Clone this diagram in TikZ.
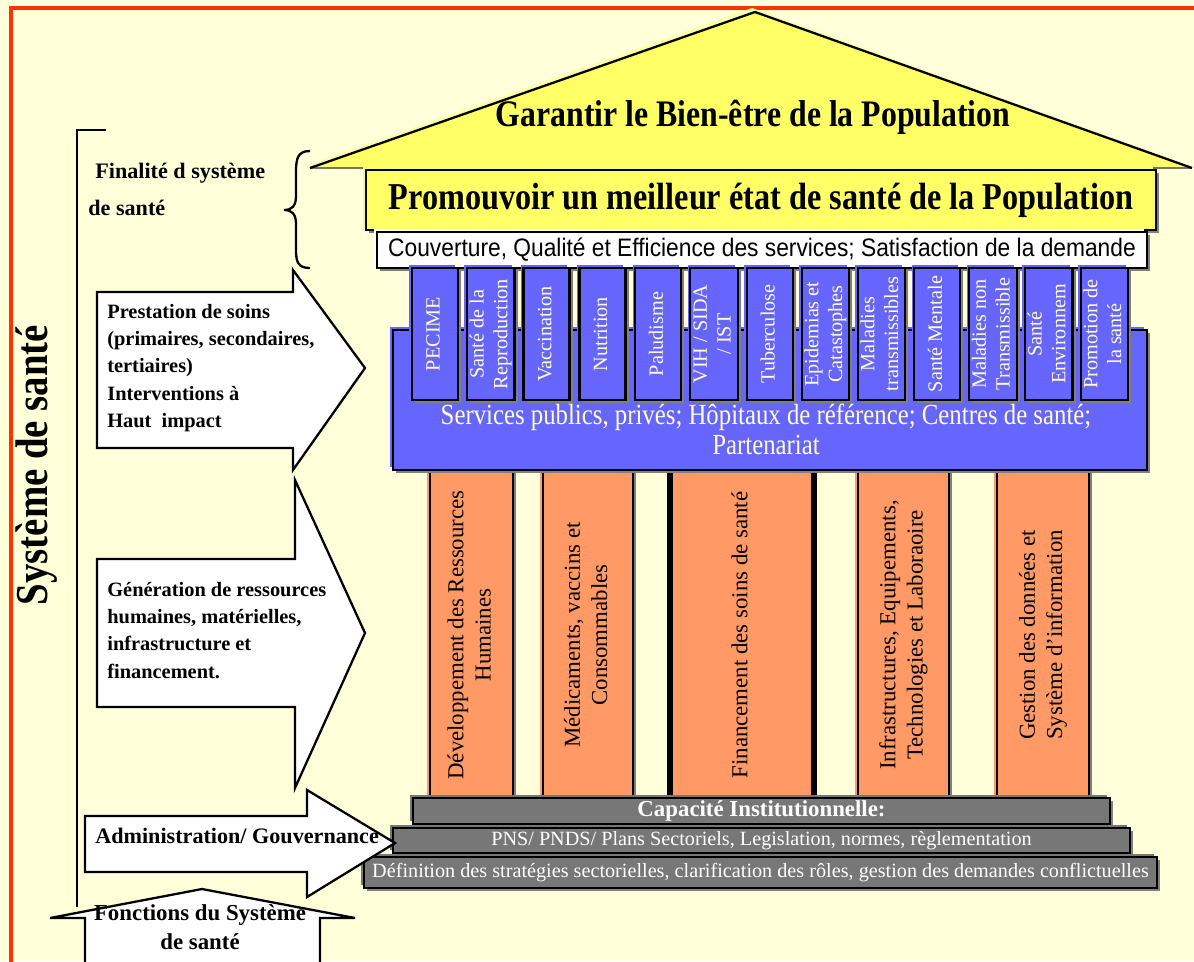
\documentclass[tikz,border=0pt]{standalone}
\usepackage{fontspec}
\setmainfont{Liberation Serif}
\newfontfamily\narrowserif[FakeStretch=0.85]{Liberation Serif}
\newfontfamily\narrowsans[FakeStretch=0.9]{Liberation Sans}
\usetikzlibrary{shadows}
\definecolor{paper}{RGB}{255,255,217}
\definecolor{frame}{RGB}{255,51,0}
\definecolor{roofyellow}{RGB}{255,255,102}
\definecolor{paleyellow}{RGB}{255,255,170}
\definecolor{serviceblue}{RGB}{102,102,255}
\definecolor{pillar}{RGB}{255,153,102}
\definecolor{stepgray}{RGB}{119,119,119}
\definecolor{cream}{RGB}{255,255,204}
\newcommand{\vtext}[1]{\rotatebox{90}{\begin{tabular}{@{}c@{}}#1\end{tabular}}}

\begin{document}
\begin{tikzpicture}[x=0.02cm, y=-0.02cm,
        shadowed/.style={drop shadow={shadow xshift=1.8pt, shadow yshift=-1.8pt, fill=black!50, opacity=1}},
        pptbox/.style={shadowed, preaction={fill=#1, transform canvas={shift={(-1.5pt,1.5pt)}}}, fill=#1, draw=black, line width=1.3pt, inner sep=0pt},
        arrowshape/.style={draw=black, fill=white, line width=1.3pt},
        lefttext/.style={font=\fontsize{11.6}{15.5}\selectfont\bfseries, align=left, inner sep=0pt},
        progtext/.style={text=cream, font=\fontsize{11.5}{13.5}\selectfont},
        pillartext/.style={font=\fontsize{13}{15.5}\selectfont},
        steptext/.style={text=white, font=\fontsize{11.5}{13}\selectfont}]
        \path[use as bounding box, clip] (0,0) rectangle (1194,961);
        \fill[paper] (0,0) rectangle (1194,961);
        \draw[frame, line width=2.8pt] (11,8) rectangle (1220,990);

        \draw[line width=1.3pt] (106,130) -- (77,130) -- (77,907);
        \node[rotate=90, inner sep=0pt, font=\fontsize{26}{28}\selectfont\narrowserif\bfseries] (systeme) at (37,465) {Système de santé};
        \node[lefttext, anchor=north west, font=\fontsize{12.6}{21}\selectfont\bfseries] (finalite) at (88,163) {\hspace{4pt}Finalité d système\\de santé};
        \draw[line width=1.3pt] (310,151) .. controls (298,151) and (296,158) .. (296,172) -- (296,196) .. controls (296,206) and (292,210) .. (284,210) .. controls (292,210) and (296,214) .. (296,224) -- (296,250) .. controls (296,262) and (298,268) .. (310,268);

        \fill[paleyellow] (305,166) -- (752,8) -- (1188,165) -- cycle;
        \fill[roofyellow] (310,168) -- (755,12) -- (1192,168) -- cycle;
        \draw[black!55, line width=1.3pt] (310,168) -- (1192,168);
        \draw[line width=1.3pt] (310,168) -- (755,12) -- (1192,168);
        \node[inner sep=0pt, font=\fontsize{21.3}{24}\selectfont\narrowserif\bfseries] (bienetre) at (753,117) {Garantir le Bien-être de la Population};

        \node[pptbox=roofyellow, minimum width=790*0.02cm, minimum height=60*0.02cm, font=\fontsize{21.6}{24}\selectfont\narrowserif\bfseries] (etat) at (761,200) {Promouvoir un meilleur état de santé de la Population};
        \node[pptbox=white, minimum width=770*0.02cm, minimum height=36*0.02cm, font=\fontsize{14.4}{16}\selectfont\narrowsans] (couverture) at (762,250) {Couverture, Qualité et Efficience des services; Satisfaction de la demande};

        \node[pptbox=pillar, minimum width=83*0.02cm, minimum height=330*0.02cm, pillartext] (rh) at (471.5,635) {\vtext{Développement des Ressources\\Humaines}};
        \node[pptbox=pillar, minimum width=90*0.02cm, minimum height=330*0.02cm, pillartext] (medic) at (588,635) {\vtext{Médicaments, vaccins et\\Consommables}};
        \node[pptbox=pillar, minimum width=144*0.02cm, minimum height=330*0.02cm, pillartext, line width=3.5pt] (financement) at (742,635) {\vtext{Financement des soins de santé}};
        \node[pptbox=pillar, minimum width=91*0.02cm, minimum height=330*0.02cm, pillartext] (infra) at (903.5,635) {\vtext{Infrastructures, Equipements,\\Technologies et Laboraoire}};
        \node[pptbox=pillar, minimum width=92*0.02cm, minimum height=330*0.02cm, pillartext] (sig) at (1043,635) {\vtext{Gestion des données et\\Système d'information}};

        \node[pptbox=serviceblue, minimum width=754*0.02cm, minimum height=140*0.02cm] (services) at (770,400) {};
        \node[inner sep=0pt, align=center, text=cream, font=\fontsize{16.6}{17}\selectfont\narrowserif] (servicestext) at (766,429) {Services publics, privés; Hôpitaux de référence; Centres de santé;\\Partenariat};
        \foreach \txt [count=\i from 0] in {PECIME, Santé de la\\Reproduction, Vaccination, Nutrition, Paludisme, VIH / SIDA\\/ IST, Tuberculose, Epidemias et\\Catastophes, Maladies\\transmissibles, Santé Mentale, Maladies non\\Transmissible, Santé\\Environnem, Promotion de\\la santé}
                \node[pptbox=serviceblue, minimum width=46*0.02cm, minimum height=132*0.02cm, progtext] (prog\i) at (435+55.8*\i,334) {\vtext{\txt}};

        \node[pptbox=stepgray, minimum width=697*0.02cm, minimum height=26*0.02cm, steptext, font=\fontsize{13}{14}\selectfont\bfseries] (capacite) at (761.5,811) {Capacité Institutionnelle:};
        \node[pptbox=stepgray, minimum width=737*0.02cm, minimum height=25*0.02cm, steptext] (pns) at (761.5,840.5) {PNS/ PNDS/ Plans Sectoriels, Legislation, normes, règlementation};
        \node[pptbox=stepgray, minimum width=793*0.02cm, minimum height=31*0.02cm, steptext] (strategies) at (760.5,872.5) {Définition des stratégies sectorielles, clarification des rôles, gestion des demandes conflictuelles};

        \filldraw[arrowshape] (97,292) -- (293,292) -- (293,270) -- (365,368) -- (293,470) -- (293,448) -- (97,448) -- cycle;
        \node[lefttext, anchor=north west] (prestation) at (107,304) {Prestation de soins\\ (primaires, secondaires,\\tertiaires)\\ Interventions à\\Haut\ \ impact};
        \filldraw[arrowshape] (97,559) -- (295,559) -- (295,480) -- (365,633) -- (295,788) -- (295,707) -- (97,707) -- cycle;
        \node[lefttext, anchor=north west] (generation) at (107,582) {Génération de ressources\\humaines, matérielles,\\ infrastructure et\\financement.};
        \filldraw[arrowshape] (85,816) -- (307,816) -- (307,790) -- (395,843) -- (307,897) -- (307,872) -- (85,872) -- cycle;
        \node[lefttext, anchor=west, font=\fontsize{12.6}{14}\selectfont\bfseries] (gouvernance) at (95,836) {Administration/ Gouvernance};
        \filldraw[arrowshape] (85,970) -- (85,918) -- (50,918) -- (202,889) -- (355,918) -- (320,918) -- (320,970) -- cycle;
        \node[lefttext, align=center, font=\fontsize{13}{16.5}\selectfont\bfseries] (fonctions) at (200,927) {Fonctions du Système\\de santé};
\end{tikzpicture}
\end{document}
